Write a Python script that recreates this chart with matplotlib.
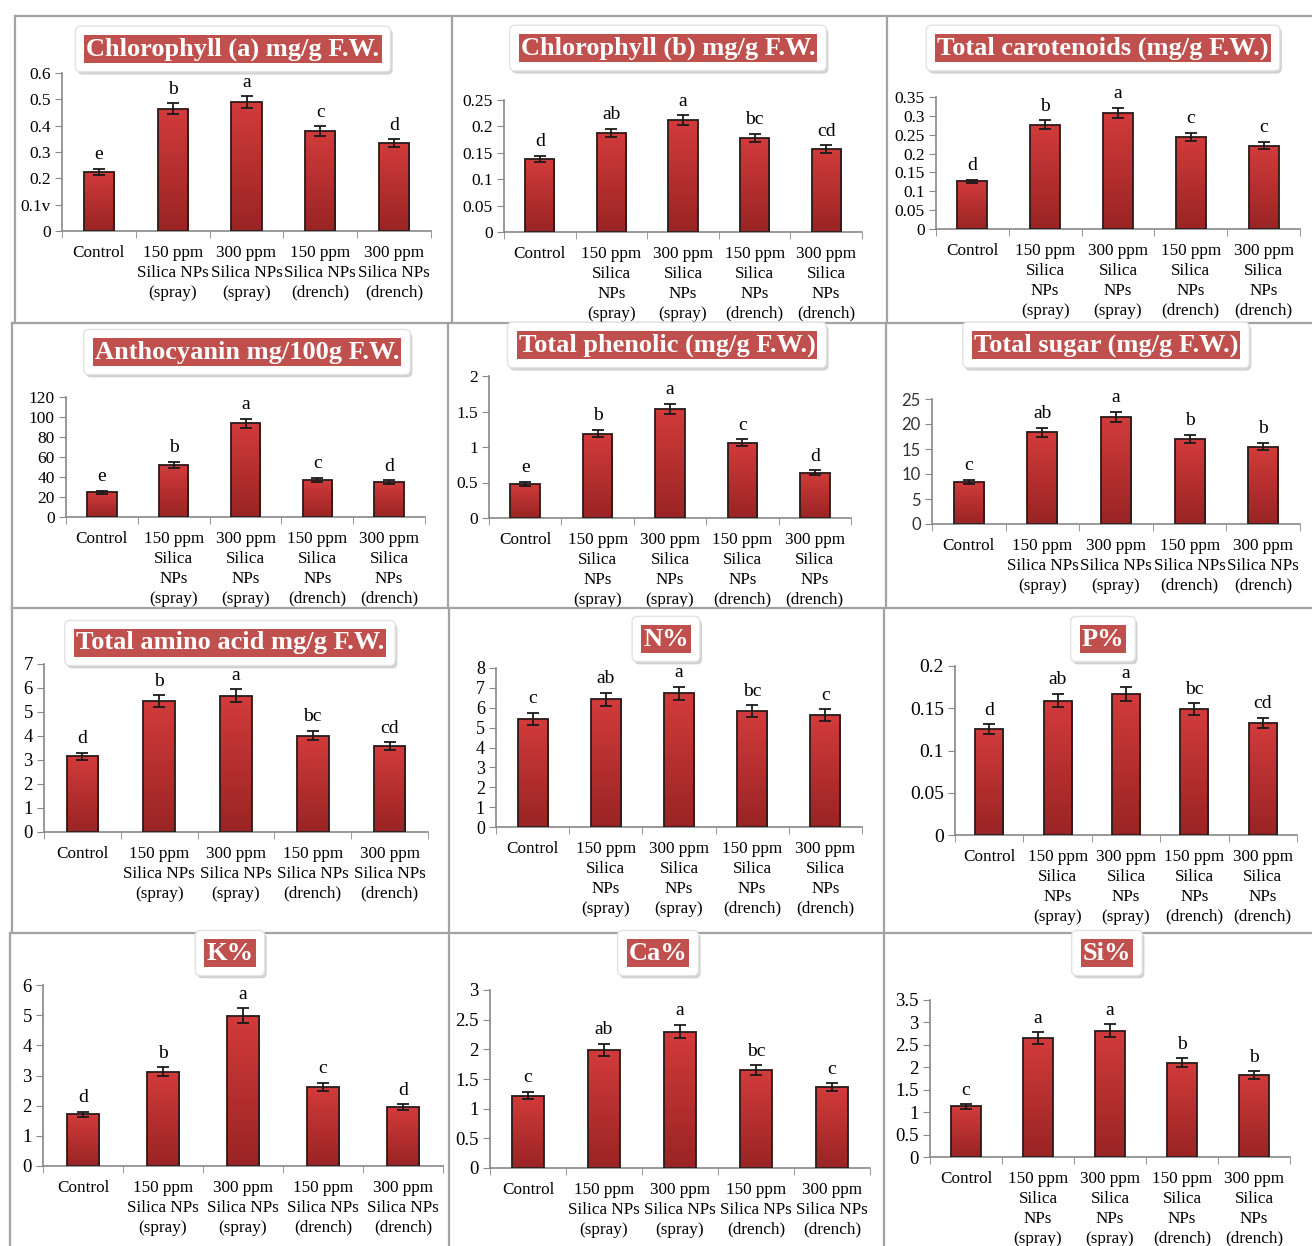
import numpy as np
import matplotlib
matplotlib.use('Agg')
import matplotlib.pyplot as plt
from matplotlib.lines import Line2D
import matplotlib.patheffects as pe

W, H = 1312, 1246
plt.rcParams['font.family'] = 'Liberation Serif'

# ---- data ----
treat3 = ['Control', '150 ppm\nSilica NPs\n(spray)', '300 ppm\nSilica NPs\n(spray)',
          '150 ppm\nSilica NPs\n(drench)', '300 ppm\nSilica NPs\n(drench)']
treat4 = ['Control', '150 ppm\nSilica\nNPs\n(spray)', '300 ppm\nSilica\nNPs\n(spray)',
          '150 ppm\nSilica\nNPs\n(drench)', '300 ppm\nSilica\nNPs\n(drench)']

titles = ['Chlorophyll (a) mg/g F.W.', 'Chlorophyll (b) mg/g F.W.', 'Total carotenoids (mg/g F.W.)',
          'Anthocyanin mg/100g F.W.', 'Total phenolic (mg/g F.W.)', 'Total sugar (mg/g F.W.)',
          'Total amino acid mg/g F.W.', 'N%', 'P%',
          'K%', 'Ca%', 'Si%']

chl_a = [0.225, 0.465, 0.49, 0.38, 0.333]
chl_a_err = [0.012, 0.02, 0.022, 0.018, 0.015]
chl_b = [0.138, 0.188, 0.212, 0.178, 0.157]
chl_b_err = [0.006, 0.008, 0.009, 0.008, 0.007]
carot = [0.126, 0.276, 0.307, 0.244, 0.221]
carot_err = [0.005, 0.012, 0.014, 0.011, 0.010]
antho = [25, 52, 94, 37, 35]
antho_err = [1.5, 3, 4.5, 2, 1.8]
phenol = [0.48, 1.19, 1.54, 1.06, 0.64]
phenol_err = [0.03, 0.05, 0.07, 0.05, 0.03]
sugar = [8.5, 18.4, 21.4, 17.1, 15.5]
sugar_err = [0.4, 0.9, 1.0, 0.8, 0.7]
amino = [3.15, 5.45, 5.68, 4.02, 3.57]
amino_err = [0.15, 0.25, 0.26, 0.2, 0.17]
n_pct = [5.45, 6.42, 6.72, 5.82, 5.62]
n_err = [0.3, 0.32, 0.33, 0.3, 0.3]
p_pct = [0.125, 0.159, 0.167, 0.149, 0.133]
p_err = [0.006, 0.008, 0.008, 0.007, 0.006]
k_pct = [1.72, 3.12, 4.98, 2.62, 1.95]
k_err = [0.08, 0.15, 0.25, 0.13, 0.1]
ca_pct = [1.22, 1.99, 2.3, 1.65, 1.36]
ca_err = [0.06, 0.1, 0.11, 0.08, 0.07]
si_pct = [1.13, 2.65, 2.82, 2.1, 1.82]
si_err = [0.05, 0.13, 0.14, 0.1, 0.09]

letters = [['e', 'b', 'a', 'c', 'd'], ['d', 'ab', 'a', 'bc', 'cd'], ['d', 'b', 'a', 'c', 'c'],
           ['e', 'b', 'a', 'c', 'd'], ['e', 'b', 'a', 'c', 'd'], ['c', 'ab', 'a', 'b', 'b'],
           ['d', 'b', 'a', 'bc', 'cd'], ['c', 'ab', 'a', 'bc', 'c'], ['d', 'ab', 'a', 'bc', 'cd'],
           ['d', 'b', 'a', 'c', 'd'], ['c', 'ab', 'a', 'bc', 'c'], ['c', 'a', 'a', 'b', 'b']]

yticks = [[0, 0.1, 0.2, 0.3, 0.4, 0.5, 0.6], [0, 0.05, 0.1, 0.15, 0.2, 0.25],
          [0, 0.05, 0.1, 0.15, 0.2, 0.25, 0.3, 0.35], [0, 20, 40, 60, 80, 100, 120],
          [0, 0.5, 1, 1.5, 2], [0, 5, 10, 15, 20, 25], [0, 1, 2, 3, 4, 5, 6, 7],
          [0, 1, 2, 3, 4, 5, 6, 7, 8], [0, 0.05, 0.1, 0.15, 0.2], [0, 1, 2, 3, 4, 5, 6],
          [0, 0.5, 1, 1.5, 2, 2.5, 3], [0, 0.5, 1, 1.5, 2, 2.5, 3, 3.5]]
ytick_labels = [['0', '0.1v', '0.2', '0.3', '0.4', '0.5', '0.6']] + [None] * 11

values = [chl_a, chl_b, carot, antho, phenol, sugar, amino, n_pct, p_pct, k_pct, ca_pct, si_pct]
errors = [chl_a_err, chl_b_err, carot_err, antho_err, phenol_err, sugar_err,
          amino_err, n_err, p_err, k_err, ca_err, si_err]
xlabels = [treat3, treat4, treat4, treat4, treat4, treat3, treat3, treat4, treat4, treat3, treat3, treat4]

# ---- layout (pixels): axes left, right, top, bottom ; title centre ----
boxes = [(62, 431, 73, 231), (504, 862, 100, 232), (936, 1300, 97, 229),
         (66, 425, 397, 517), (489, 851, 376, 518), (932, 1300, 399, 524),
         (44, 428, 664, 832), (496, 862, 668, 827), (955, 1297, 666, 835),
         (43, 443, 985, 1166), (490, 870, 990, 1168), (930, 1290, 1000, 1157)]
title_pos = [(233, 49), (668, 48), (1103, 48), (247, 352), (667, 345), (1106, 345),
             (230, 643), (666, 639), (1103, 639), (230, 953), (658, 953), (1107, 953)]
tick_fs = [12.5, 12.5, 12.5, 12.5, 12.5, 12, 13.5, 13, 14, 13.5, 13.5, 13.5]

fig = plt.figure(figsize=(W / 100, H / 100), dpi=100)

grad = np.linspace(0, 1, 100).reshape(-1, 1)
cmap = matplotlib.colors.LinearSegmentedColormap.from_list('bar', ['#9a2424', '#d23b3b'])

for i in range(12):
    l, r, t, b = boxes[i]
    ax = fig.add_axes([l / W, 1 - b / H, (r - l) / W, (b - t) / H])
    vals = values[i]
    errs = errors[i]
    x = np.arange(len(vals))
    ymax = yticks[i][-1]
    bw = 0.41
    bars = ax.bar(x, vals, width=bw, color='none', edgecolor='#2b1a1a', linewidth=1.3, zorder=3)
    for bar in bars:
        x0 = bar.get_x()
        h = bar.get_height()
        im = ax.imshow(grad, extent=[x0, x0 + bw, 0, h], origin='lower', aspect='auto',
                       cmap=cmap, zorder=2)
        im.set_clip_path(bar)
    ax.errorbar(x, vals, yerr=errs, fmt='none', ecolor='#1a1a1a', elinewidth=1.3,
                capsize=4, capthick=1.3, zorder=4)
    for xi, v, e, s in zip(x, vals, errs, letters[i]):
        ax.annotate(s, (xi, v + e), xytext=(0, 4), textcoords='offset points',
                    ha='center', va='bottom', fontsize=14)
    ax.set_xlim(-0.5, 4.5)
    ax.set_ylim(0, ymax)
    ax.set_yticks(yticks[i])
    if ytick_labels[i] is not None:
        ax.set_yticklabels(ytick_labels[i])
    else:
        ax.set_yticklabels(['%g' % v for v in yticks[i]])
    ax.set_xticks(x)
    ax.set_xticklabels(xlabels[i], fontsize=12.3, linespacing=1.33)
    ax.set_xticks(np.arange(-0.5, 5, 1), minor=True)
    ax.tick_params(axis='x', which='major', length=0, pad=10)
    ax.tick_params(axis='x', which='minor', length=5, color='#888888', direction='out')
    ax.tick_params(axis='y', length=5, color='#888888', labelsize=tick_fs[i], pad=3)
    if i == 5:
        for lab in ax.get_yticklabels():
            lab.set_fontfamily('Lato')
            lab.set_color('#333333')
    for side in ['top', 'right']:
        ax.spines[side].set_visible(False)
    for side in ['left', 'bottom']:
        ax.spines[side].set_color('#888888')
        ax.spines[side].set_linewidth(1.2)
    ax.set_facecolor('none')

    # title box
    cx, cy = title_pos[i]
    t1 = fig.text(cx / W, 1 - cy / H, titles[i], ha='center', va='center', fontsize=19,
                  fontweight='bold', color='white',
                  bbox=dict(boxstyle='round,pad=0.42,rounding_size=0.2', fc='white',
                            ec='#e2e2e2', lw=1))
    t1.get_bbox_patch().set_path_effects([
        pe.SimplePatchShadow(offset=(1.5, -2), shadow_rgbFace='#999999', alpha=0.45),
        pe.Normal()])
    fig.text(cx / W, 1 - cy / H, titles[i], ha='center', va='center', fontsize=19,
             fontweight='bold', color='white',
             bbox=dict(boxstyle='square,pad=0.08', fc='#c0504d', ec='none'))

# ---- panel borders ----
bc = '#a3a3a3'
def hline(y, x0, x1):
    fig.add_artist(Line2D([x0 / W, x1 / W], [1 - y / H, 1 - y / H], color=bc, lw=1.6))
def vline(x, y0, y1):
    fig.add_artist(Line2D([x / W, x / W], [1 - y0 / H, 1 - y1 / H], color=bc, lw=1.6))

hline(16, 15, 1312)
hline(323, 12, 1312)
hline(608, 12, 1312)
hline(933, 10, 1312)
for xv in [15, 452, 887]:
    vline(xv, 16, 323)
for xv in [12, 448, 886]:
    vline(xv, 323, 608)
for xv in [12, 449, 884]:
    vline(xv, 608, 933)
for xv in [10, 449, 884]:
    vline(xv, 933, 1246)

fig.savefig('out.png', dpi=100)
